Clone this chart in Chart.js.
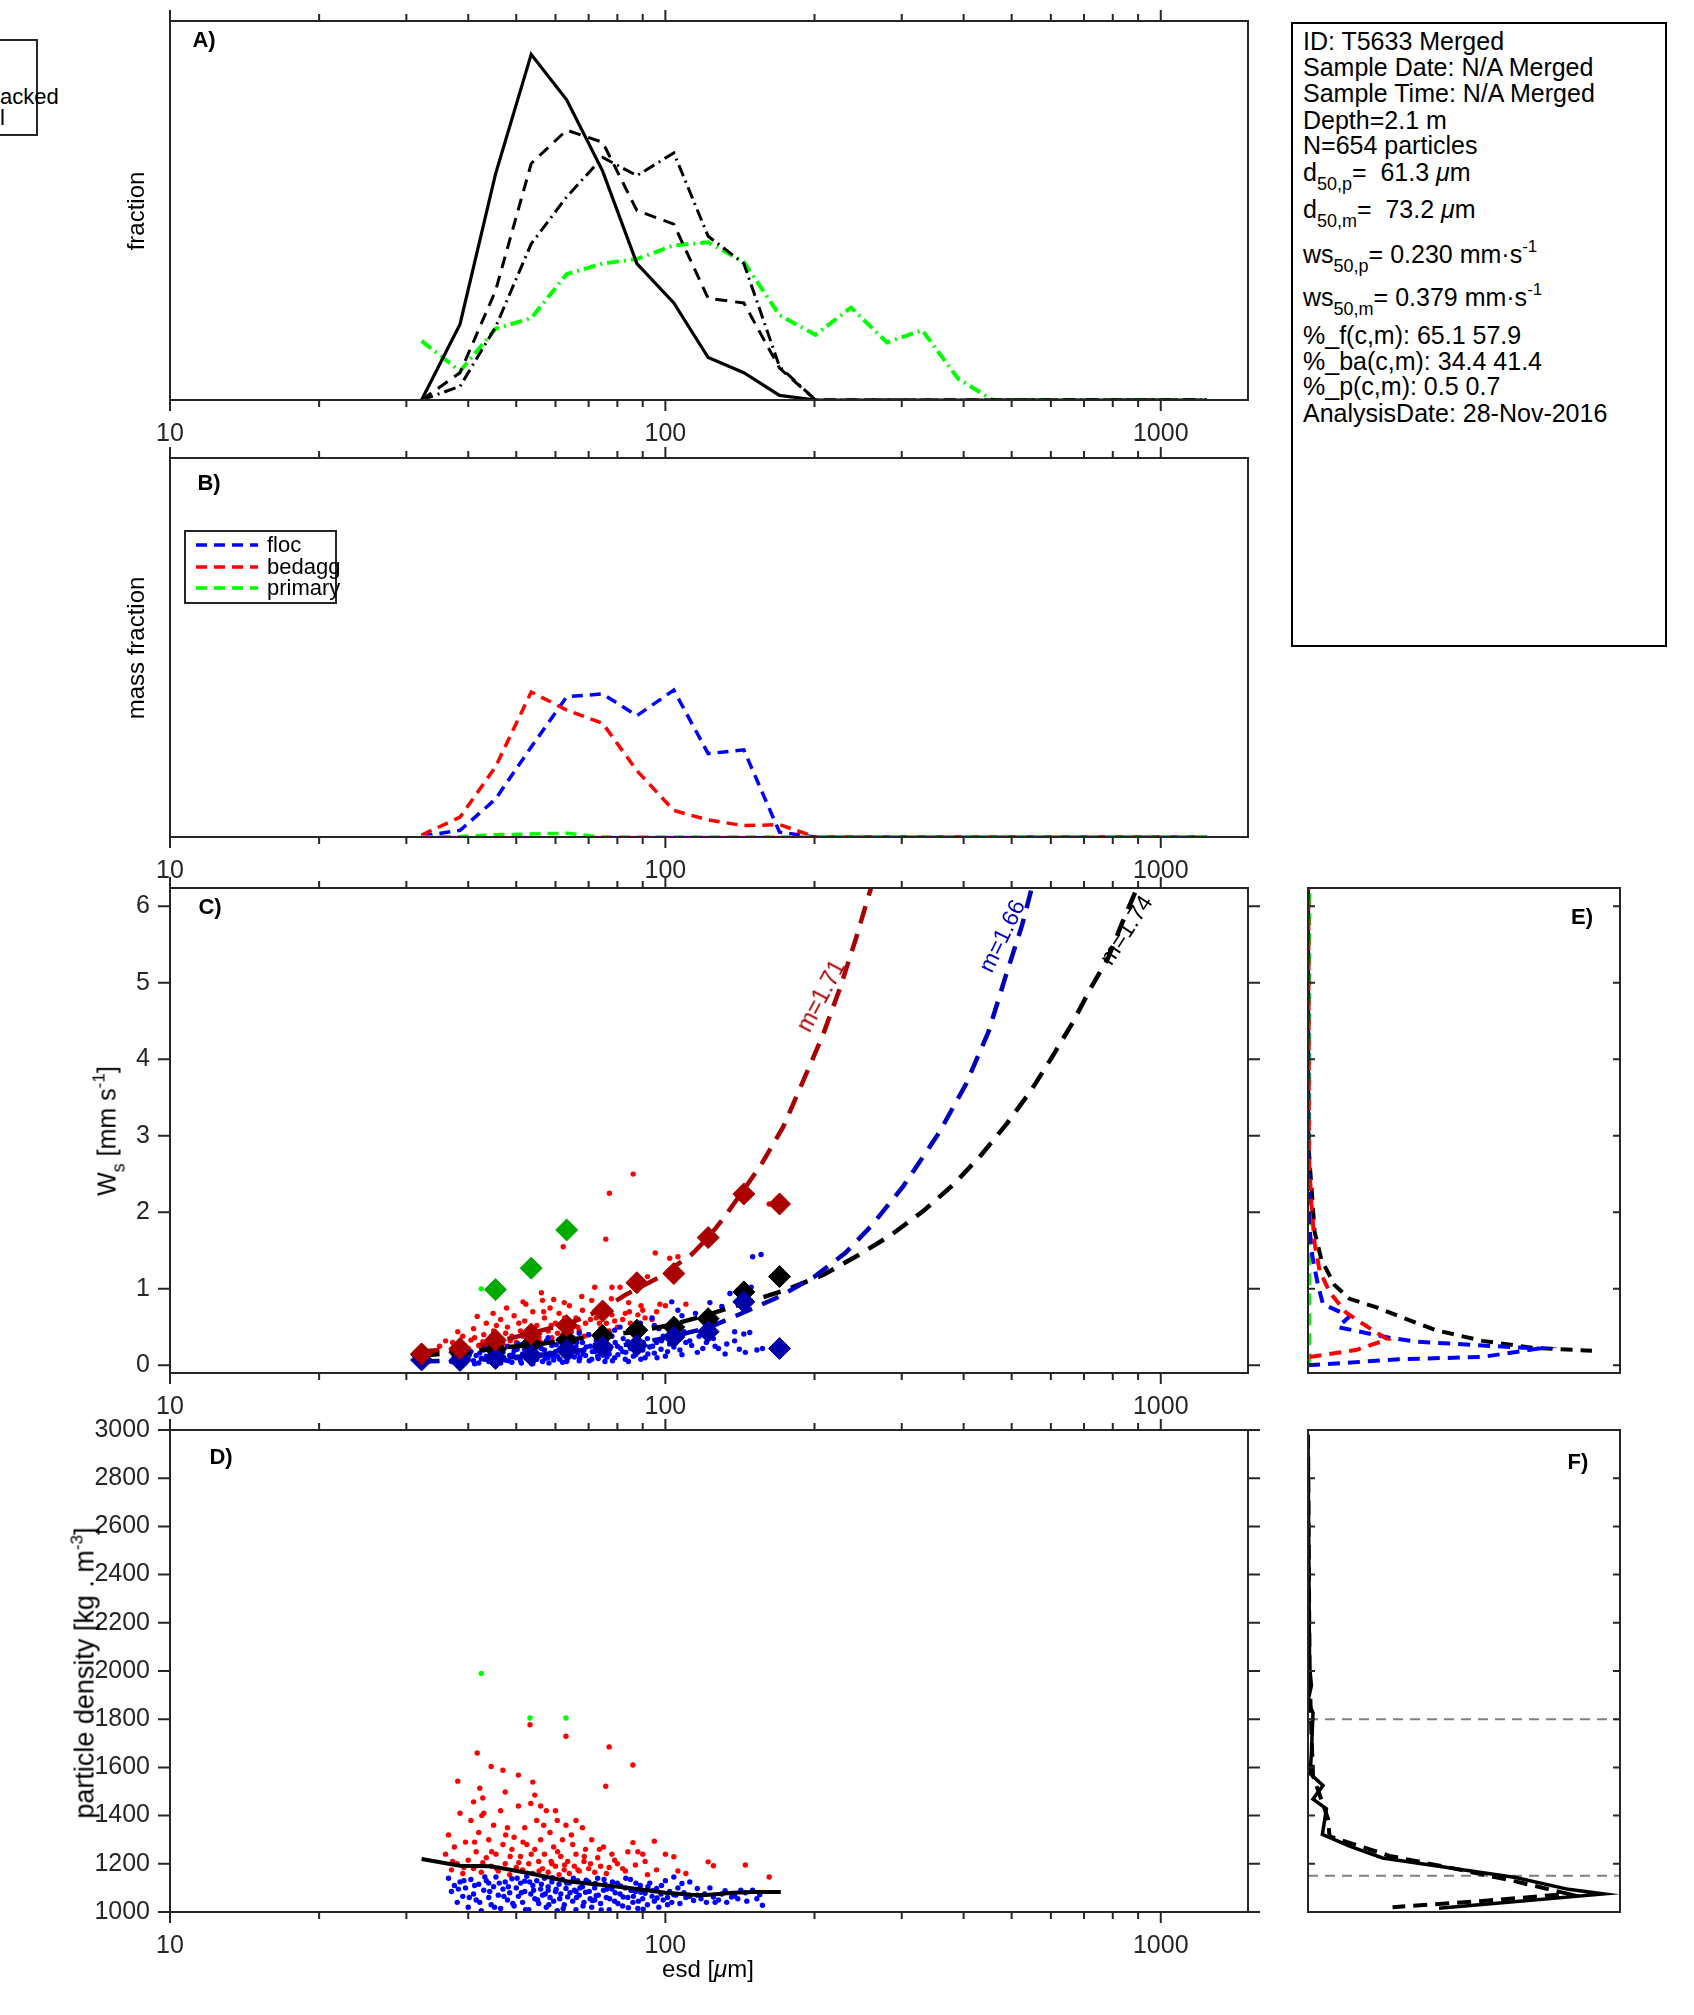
<!DOCTYPE html>
<html>
<head>
<meta charset="utf-8">
<script src="https://cdn.jsdelivr.net/npm/chart.js@4.4.0/dist/chart.umd.min.js"></script>
<style>
  body { margin: 0; background: #fff; width: 1694px; height: 2015px; position: relative; overflow: hidden;
         font-family: 'Liberation Sans', Arial, sans-serif; color: #000; }
  canvas { position: absolute; }
  .t { position: absolute; white-space: nowrap; line-height: 1; }
  .c { transform: translate(-50%, -50%); }
  .r { transform: translate(-50%, -50%) rotate(-90deg); }
  .v { transform: translateY(-50%); }
  .b { font-weight: bold; font-size: 22px; }
  .sb { font-size: 18px; position: relative; top: 9px; }
  .sp { font-size: 17px; position: relative; top: -11px; }
  .info { font-size: 25px; left: 1303px; }
</style>
</head>
<body>
<script>
const INK = '#262626';
Chart.defaults.font.family = "'Liberation Sans', Arial, sans-serif";
Chart.defaults.color = INK;

// ---- data ----
const xMajor = [10, 100, 1000];
const xMinor = [20, 30, 40, 50, 60, 70, 80, 90, 200, 300, 400, 500, 600, 700, 800, 900];

// size bins (esd, um)
const esdBins = [32.2, 38.5, 45.4, 53.6, 63.2, 74.7, 87.6, 104, 122, 144, 170, 201, 237, 280, 330, 390, 458, 540, 637, 751, 886, 1045, 1240];

// A) number fraction
const aSolid   = [0, 0.050, 0.149, 0.228, 0.198, 0.151, 0.090, 0.064, 0.028, 0.018, 0.003, 0, 0, 0, 0, 0, 0, 0, 0, 0, 0, 0, 0];
const aDashed  = [0, 0.018, 0.072, 0.156, 0.178, 0.170, 0.125, 0.116, 0.067, 0.064, 0.021, 0, 0, 0, 0, 0, 0, 0, 0, 0, 0, 0, 0];
const aDashDot = [0, 0.009, 0.048, 0.103, 0.134, 0.160, 0.148, 0.163, 0.108, 0.090, 0.022, 0, 0, 0, 0, 0, 0, 0, 0, 0, 0, 0, 0];
const aPrimary = [0.039, 0.019, 0.047, 0.054, 0.083, 0.090, 0.093, 0.102, 0.104, 0.091, 0.056, 0.043, 0.061, 0.038, 0.046, 0.014, 0, 0, 0, 0, 0, 0, 0];

// B) mass fraction
const bFloc    = [0.001, 0.007, 0.040, 0.095, 0.148, 0.151, 0.128, 0.155, 0.088, 0.092, 0.005, 0, 0, 0, 0, 0, 0, 0, 0, 0, 0, 0, 0];
const bBedagg  = [0.002, 0.021, 0.074, 0.153, 0.134, 0.120, 0.070, 0.028, 0.018, 0.012, 0.013, 0, 0, 0, 0, 0, 0, 0, 0, 0, 0, 0, 0];
const bPrimary = [0, 0.0004, 0.0024, 0.0032, 0.004, 0, 0, 0, 0, 0, 0, 0, 0, 0, 0, 0, 0, 0, 0, 0, 0, 0, 0];

// C) settling velocity, bin medians
const cBins       = [32.2, 38.5, 45.4, 53.6, 63.2, 74.7, 87.6, 104, 122, 144, 170];
const cFlocMed    = [0.07, 0.065, 0.09, 0.13, 0.20, 0.24, 0.26, 0.37, 0.44, 0.83, 0.22];
const cBedaggMed  = [0.15, 0.22, 0.33, 0.41, 0.52, 0.71, 1.08, 1.20, 1.67, 2.24, 2.11];
const cAllMed     = [0.14, 0.17, 0.21, 0.28, 0.33, 0.39, 0.46, 0.50, 0.61, 0.96, 1.16];
const cPrimBins   = [45.4, 53.6, 63.2];
const cPrimMed    = [0.99, 1.27, 1.77];

// C) fitted curves
const fitRedX   = [32.2, 40, 47, 55, 64, 74, 83, 97, 113, 122, 132, 156, 173, 191, 208, 226, 243, 260];
const fitRedY   = [0.18, 0.23, 0.33, 0.44, 0.55, 0.72, 0.92, 1.15, 1.45, 1.67, 1.95, 2.62, 3.12, 3.76, 4.32, 4.96, 5.60, 6.24];
const fitBlueX  = [32.2, 40, 48, 56, 64, 75, 88, 104, 123, 145, 170, 200, 231, 261, 302, 356, 404, 449, 487, 524, 549];
const fitBlueY  = [0.05, 0.07, 0.10, 0.14, 0.18, 0.23, 0.29, 0.38, 0.50, 0.70, 0.90, 1.16, 1.47, 1.83, 2.34, 3.03, 3.67, 4.36, 5.10, 5.74, 6.24];
const fitBlackX = [32.2, 40, 48, 55, 60, 70, 85, 103, 123, 147, 174, 208, 245, 285, 332, 381, 434, 489, 548, 602, 664, 722, 782, 839, 890];
const fitBlackY = [0.13, 0.18, 0.24, 0.27, 0.31, 0.37, 0.43, 0.53, 0.67, 0.83, 0.98, 1.18, 1.44, 1.70, 2.02, 2.36, 2.75, 3.16, 3.60, 4.02, 4.48, 4.93, 5.32, 5.81, 6.20];

// C) particles (esd, ws)
const cFloc = [[37,0.05],[37.5,0.12],[38,0.02],[38.5,0.08],[39,0.15],[39.5,0.04],[40,0.10],[40.5,0.18],[41,0.06],[41.5,0.13],
  [42,0.03],[42.5,0.09],[43,0.20],[43.5,0.12],[44,0.05],[44.5,0.15],[45,0.08],[45.5,0.22],[46,0.11],[46.5,0.03],
  [47,0.17],[47.5,0.07],[48,0.25],[48.5,0.13],[49,0.04],[49.5,0.19],[50,0.10],[50.5,0.28],[51,0.06],[51.5,0.15],
  [52,0.21],[52.5,0.09],[53,0.12],[53.5,0.30],[54,0.02],[54.5,0.17],[55,0.08],[55.5,0.24],[56,0.13],[56.5,0.05],
  [57,0.20],[57.5,0.32],[58,0.10],[58.5,0.16],[59,0.26],[59.5,0.07],[60,0.18],[60.5,0.12],[61,0.34],[61.5,0.22],
  [62,0.04],[62.5,0.14],[63,0.28],[63.5,0.09],[64,0.19],[65,0.36],[65.5,0.11],[66,0.24],[66.5,0.16],[67,0.06],
  [68,0.30],[68.5,0.20],[69,0.13],[70,0.40],[70.5,0.25],[71,0.08],[72,0.18],[72.5,0.33],[73,0.12],[74,0.45],
  [75,0.22],[75.5,0.05],[76,0.28],[77,0.15],[78,0.38],[79,0.10],[80,0.25],[81,0.50],[82,0.18],[83,0.08],
  [84,0.31],[85,0.22],[86,0.42],[87,0.14],[88,0.27],[89,0.55],[90,0.20],[91,0.10],[92,0.35],[93,0.24],
  [94,0.62],[95,0.16],[96,0.30],[97,0.48],[98,0.21],[99,0.38],[100,0.12],[102,0.28],[103,0.83],[104,0.55],
  [105,0.35],[106,0.72],[107,0.20],[108,0.65],[109,0.44],[110,0.30],[113,0.26],[115,0.68],[117,0.38],[119,0.22],
  [121,0.30],[123,0.82],[125,0.35],[128,0.22],[130,0.77],[133,0.28],[135,0.94],[138,0.44],[141,0.21],[144,0.41],
  [148,0.43],[149,1.02],[150,1.42],[156,1.45],[157,0.22],[43,0.25],[58,0.36],[67,0.42],[79,0.46],[95,0.52],
  [38.2,0.10],[39.2,0.07],[40.2,0.14],[41.2,0.02],[42.2,0.16],[43.2,0.08],[44.2,0.11],[45.2,0.04],[46.2,0.19],[47.2,0.10],
  [48.2,0.06],[49.2,0.14],[50.2,0.21],[51.2,0.03],[52.2,0.11],[53.2,0.18],[54.2,0.07],[55.2,0.14],[56.2,0.22],[57.2,0.09],
  [58.2,0.03],[59.2,0.13],[60.2,0.27],[61.2,0.08],[62.2,0.17],[63.2,0.05],[64.2,0.12],[65.2,0.21],[66.2,0.30],[67.2,0.10],
  [68.2,0.15],[69.2,0.24],[70.2,0.06],[71.2,0.18],[72.2,0.27],[73.2,0.09],[74.2,0.15],[75.2,0.33],[76.2,0.11],[77.2,0.21],
  [78.2,0.06],[79.2,0.30],[80.2,0.14],[81.2,0.22],[82.2,0.35],[83.2,0.17],[84.2,0.05],[85.2,0.28],[86.2,0.12],[87.2,0.36],
  [88.2,0.19],[89.2,0.08],[90.2,0.30],[92.2,0.15],[94.2,0.25],[96.2,0.10],[98.2,0.32],[101,0.18],[104,0.24],[108,0.14],
  [112,0.32],[116,0.17],[120,0.45],[126,0.25],[132,0.15],[138,0.32],[145,0.17],[153,0.20]];
const cBedagg = [[38.1,0.44],[41.7,0.64],[44.9,0.68],[47.8,0.75],[51.6,0.83],[52.3,0.80],[56.2,0.95],[56.5,0.85],[59.5,0.86],[62.5,0.82],
  [62.2,1.55],[67.8,0.90],[72,1.02],[75.8,1.65],[77.1,2.25],[77.8,0.87],[78,1.02],[81,1.02],[84.3,0.82],[84.6,0.70],
  [86.1,2.50],[89.3,0.78],[92,1.16],[95.4,1.47],[97.5,0.80],[102,1.40],[106,1.42],[162,2.11],
  [35,0.25],[36,0.32],[37,0.20],[38,0.28],[39,0.38],[40,0.22],[40.5,0.33],[41,0.48],[42,0.26],[43,0.40],
  [43.5,0.55],[44,0.30],[45,0.45],[46,0.36],[46.5,0.60],[47,0.28],[48,0.50],[49,0.38],[49.5,0.65],[50,0.30],
  [51,0.45],[52,0.58],[53,0.35],[54,0.70],[54.5,0.42],[55,0.52],[56,0.30],[57,0.62],[58,0.45],[58.5,0.75],
  [59,0.36],[60,0.55],[61,0.68],[62,0.40],[63,0.50],[64,0.78],[65,0.35],[66,0.62],[67,0.45],[68,0.72],
  [69,0.55],[70,0.40],[71,0.85],[72.5,0.62],[74,0.48],[75,0.70],[76,0.55],[78,0.66],[80,0.50],[82,0.60],
  [85,0.55],[88,0.66],[90,0.72],[94,0.60],[100,0.78],[110,0.80],
  [37.2,0.30],[39.2,0.26],[41.2,0.36],[42.8,0.31],[44.6,0.38],[45.6,0.52],[47.6,0.42],[48.6,0.32],[50.6,0.55],[51.6,0.38],
  [53.6,0.48],[55.6,0.36],[56.8,0.70],[58.8,0.52],[60.6,0.42],[62.6,0.62],[64.6,0.44],[66.6,0.50],[68.6,0.38],[70.6,0.60],
  [73.6,0.55],[77,0.45],[79,0.58],[83,0.68],[87,0.50],[91,0.62],[96,0.70]];
const cPrimary = [[42.5,1.0],[53.3,1.27],[63,1.77]];

// D) particles (esd, density)
const dFloc = [[36.5,1140],[37,1085],[37.5,1110],[38,1040],[38.5,1125],[39,1065],[39.5,1100],[40,1020],[40.5,1135],[41,1075],
  [41.5,1050],[42,1115],[42.5,1005],[43,1090],[43.5,1130],[44,1060],[44.5,1030],[45,1105],[45.5,1145],[46,1070],
  [46.5,1015],[47,1095],[47.5,1125],[48,1050],[48.5,1080],[49,1138],[49.5,1025],[50,1100],[50.5,1065],[51,1120],
  [51.5,1040],[52,1085],[52.5,1148],[53,1010],[53.5,1075],[54,1110],[54.5,1055],[55,1130],[55.5,1035],[56,1095],
  [56.5,1070],[57,1140],[57.5,1020],[58,1105],[58.5,1060],[59,1125],[59.5,1045],[60,1085],[60.5,1005],[61,1115],
  [61.5,1075],[62,1135],[62.5,1030],[63,1098],[63.5,1062],[64,1120],[65,1045],[65.5,1090],[66,1010],[66.5,1130],
  [67,1070],[68,1105],[68.5,1040],[69,1082],[70,1125],[70.5,1055],[71,1020],[72,1100],[72.5,1068],[73,1140],
  [74,1035],[75,1090],[75.5,1115],[76,1060],[77,1010],[78,1095],[79,1045],[80,1120],[81,1075],[82,1025],
  [83,1100],[84,1060],[85,1135],[86,1040],[87,1085],[88,1015],[89,1110],[90,1055],[91,1078],[92,1030],
  [93,1120],[94,1065],[95,1045],[96,1098],[97,1020],[98,1075],[99,1050],[100,1130],[101,1060],[102,1085],
  [103,1040],[104,1145],[105,1070],[106,1100],[107,1035],[109,1080],[110,1060],[112,1125],[114,1048],[116,1070],
  [118,1055],[121,1040],[123,1100],[125,1062],[128,1050],[130,1075],[133,1040],[136,1062],[140,1055],[142,1090],
  [146,1045],[150,1090],[155,1072],[157,1028],[44,1120],[52,1128],[58,1090],[66,1085],[72,1050],[86,1090],
  [38.2,1095],[39.2,1130],[40.2,1060],[41.2,1110],[42.2,1040],[43.2,1145],[44.2,1085],[45.2,1020],[46.2,1120],[47.2,1065],
  [48.2,1105],[49.2,1035],[50.2,1140],[51.2,1080],[52.2,1010],[53.2,1125],[54.2,1090],[55.2,1050],[56.2,1115],[57.2,1075],
  [58.2,1030],[59.2,1142],[60.2,1095],[61.2,1055],[62.2,1015],[63.2,1120],[64.2,1080],[65.2,1140],[66.2,1060],[67.2,1100],
  [68.2,1025],[69.2,1132],[70.2,1085],[71.2,1048],[72.2,1118],[73.2,1070],[74.2,1008],[75.2,1135],[76.2,1095],[77.2,1055],
  [78.2,1125],[79.2,1080],[80.2,1035],[81.2,1108],[82.2,1062],[83.2,1140],[84.2,1018],[85.2,1090],[86.2,1065],[87.2,1120],
  [88.2,1045],[89.2,1082],[90.2,1012],[92.2,1105],[94.2,1088],[96.2,1058],[98.2,1110],[101,1030],[104,1072],[108,1118],
  [112,1064],[116,1098],[120,1075],[126,1040],[132,1088],[138,1066],[145,1080],[153,1055]];
const dBedagg = [[53.3,1777],[63,1729],[77,1685],[86,1610],[41.7,1660],[44.5,1604],[38.1,1543],[47,1588],[50.5,1568],[54,1539],
  [47.5,1498],[42.2,1514],[54.5,1485],[42.8,1473],[41,1457],[75.8,1522],[42.6,1400],[56,1440],[60,1420],[66,1380],
  [36,1240],[36.5,1320],[37,1175],[37.5,1270],[38,1200],[38.5,1410],[39,1160],[39.5,1290],[40,1215],[40.5,1380],
  [41,1180],[41.5,1250],[42,1330],[42.5,1165],[43,1410],[43.5,1225],[44,1300],[44.5,1190],[45,1360],[45.5,1240],
  [46,1170],[46.5,1420],[47,1280],[47.5,1200],[48,1350],[48.5,1155],[49,1260],[49.5,1310],[50,1185],[50.5,1440],
  [51,1230],[51.5,1175],[52,1350],[52.5,1280],[53,1200],[53.5,1450],[54,1160],[54.5,1260],[55,1380],[55.5,1210],
  [56,1300],[56.5,1180],[57,1240],[57.5,1420],[58,1165],[58.5,1330],[59,1200],[59.5,1270],[60,1190],[60.5,1380],
  [61,1155],[61.5,1230],[62,1300],[62.5,1175],[63,1360],[63.5,1210],[64,1160],[65,1280],[65.5,1190],[66,1240],
  [67,1170],[68,1350],[68.5,1210],[69,1260],[70,1180],[71,1300],[72,1165],[73,1225],[74,1190],[75,1270],
  [76,1160],[78,1240],[80,1200],[82,1180],[84,1250],[86,1288],[88,1250],[90,1240],[92,1155],[95,1294],
  [100,1240],[104,1229],[106,1170],[110,1160],[122,1208],[125,1192],[145,1195],[162,1145],
  [37.2,1210],[39.2,1185],[41.2,1290],[42.8,1205],[44.6,1250],[45.6,1180],[47.6,1320],[48.6,1230],[50.6,1205],[51.6,1290],
  [53.6,1240],[55.6,1170],[56.8,1360],[58.8,1210],[60.6,1250],[62.6,1195],[64.6,1320],[66.6,1175],[68.6,1230],[70.6,1200],
  [73.6,1260],[77,1185],[79,1215],[83,1170],[87,1195],[91,1210],[96,1175]];
const dPrimary = [[42.5,1990],[53.3,1805],[63,1805]];
const dMeanX = [32.2, 38.5, 44.5, 53.5, 63.2, 74.7, 88, 100, 113, 121, 137, 150, 171];
const dMeanY = [1220, 1192, 1190, 1160, 1128, 1112, 1095, 1080, 1072, 1071, 1080, 1083, 1083];

// E) ws distributions (fraction, ws)
const eAllX    = [0, 0, 0.011, 0.021, 0.043, 0.085, 0.133, 0.218, 0.293, 0.410, 0.559, 0.718, 0.910];
const eAllY    = [6.24, 2.93, 2.34, 1.75, 1.38, 1.05, 0.87, 0.76, 0.64, 0.46, 0.32, 0.23, 0.19];
const eFlocX   = [0, 0.293, 0.559, 0.739, 0.559, 0.346, 0.261, 0.096, 0.133, 0.048, 0.032, 0.014, 0.005, 0.002, 0];
const eFlocY   = [0, 0.08, 0.11, 0.22, 0.26, 0.31, 0.36, 0.50, 0.64, 0.80, 1.05, 1.42, 1.79, 2.48, 6.24];
const eBedaggX = [0.005, 0.154, 0.255, 0.181, 0.122, 0.069, 0.037, 0.021, 0.011, 0.003, 0.001];
const eBedaggY = [0.11, 0.20, 0.34, 0.53, 0.69, 0.96, 1.24, 1.60, 2.11, 2.71, 6.24];
const ePrimX   = [0.004, 0.004];
const ePrimY   = [0, 6.24];

// F) density distributions (fraction, density)
const fSolidX = [0, 0.005, 0.011, 0, 0.016, 0.011, 0.007, 0.048, 0.016, 0.059, 0.046, 0.133, 0.239, 0.452, 0.665, 0.835, 0.947, 0.420];
const fSolidY = [2980, 2021, 1940, 1875, 1826, 1663, 1574, 1525, 1468, 1428, 1322, 1273, 1224, 1184, 1143, 1094, 1075, 1016];
const fDashX  = [0, 0.005, 0.011, 0.016, 0.064, 0.069, 0.261, 0.473, 0.665, 0.835, 0.559, 0.271];
const fDashY  = [2980, 1989, 1745, 1566, 1387, 1314, 1233, 1179, 1127, 1075, 1046, 1020];
const fRefLevels = [1800, 1150];

const wsTicks = [0, 1, 2, 3, 4, 5, 6];
const rhoTicks = [1000, 1200, 1400, 1600, 1800, 2000, 2200, 2400, 2600, 2800, 3000];

// ---- helpers ----
const pts = (xs, ys) => xs.map((x, i) => ({x: x, y: ys[i]}));
function line(xs, ys, color, width, dash, order) {
  return {data: pts(xs, ys), showLine: true, borderColor: color, backgroundColor: color, borderWidth: width,
          borderDash: dash || [], pointRadius: 0, fill: false, tension: 0, order: order || 0};
}
function dots(list, color, r, order) {
  return {data: list.map(p => ({x: p[0], y: p[1]})), backgroundColor: color, borderWidth: 0, pointRadius: r, order: order || 0};
}
function diamonds(xs, ys, color, order) {
  return {data: pts(xs, ys), pointStyle: 'rectRot', pointRadius: 11, backgroundColor: color, borderColor: color,
          borderWidth: 1, order: order || 0};
}

function framePlugin(cfg) {
  return {
    id: 'frame',
    afterDraw(chart) {
      const ctx = chart.ctx, a = chart.chartArea, s = chart.scales;
      ctx.save();
      if (cfg.extra) cfg.extra(ctx, chart);
      ctx.strokeStyle = INK;
      ctx.lineWidth = 2;
      ctx.strokeRect(a.left, a.top, a.right - a.left, a.bottom - a.top);
      ctx.beginPath();
      if (cfg.logX) {
        xMajor.concat(xMinor).forEach(v => {
          const len = xMajor.includes(v) ? 11 : 7;
          const px = s.x.getPixelForValue(v);
          ctx.moveTo(px, a.top); ctx.lineTo(px, a.top - len);
          ctx.moveTo(px, a.bottom); ctx.lineTo(px, a.bottom + len);
        });
      }
      (cfg.yTicks || []).forEach(v => {
        const py = s.y.getPixelForValue(v);
        const d = cfg.yIn ? -7 : 12;
        ctx.moveTo(a.left, py); ctx.lineTo(a.left - d, py);
        ctx.moveTo(a.right, py); ctx.lineTo(a.right + d, py);
      });
      ctx.stroke();
      ctx.restore();
    }
  };
}

function xLog(showLabels, h) {
  return {
    type: 'logarithmic', min: 10, max: 1500, position: 'bottom',
    afterBuildTicks: sc => { sc.ticks = xMajor.map(v => ({value: v})); },
    afterFit: sc => { sc.height = h; },
    grid: {display: false, drawTicks: false}, border: {display: false},
    ticks: {display: showLabels, autoSkip: false, maxRotation: 0, padding: 19, font: {size: 25}, color: INK,
            callback: v => String(v)}
  };
}
function yLin(min, max, ticks, showLabels, w) {
  return {
    type: 'linear', min: min, max: max, position: 'left',
    afterBuildTicks: sc => { sc.ticks = ticks.map(v => ({value: v})); },
    afterFit: sc => { sc.width = w; },
    grid: {display: false, drawTicks: false}, border: {display: false},
    ticks: {display: showLabels, padding: 20, font: {size: 25}, color: INK, callback: v => String(v)}
  };
}

function panel(area, pad, scales, datasets, frameCfg) {
  const cv = document.createElement('canvas');
  const w = area.r - area.l + pad.l + pad.r, h = area.b - area.t + pad.t + pad.b;
  cv.width = w; cv.height = h;
  cv.style.left = (area.l - pad.l) + 'px';
  cv.style.top = (area.t - pad.t) + 'px';
  cv.style.width = w + 'px'; cv.style.height = h + 'px';
  document.body.appendChild(cv);
  const xHidden = scales.x.display === false;
  return new Chart(cv, {
    type: 'scatter',
    data: {datasets: datasets},
    options: {
      responsive: false, animation: false, devicePixelRatio: 1, events: [],
      layout: {padding: {top: pad.t, right: pad.r, left: 0, bottom: xHidden ? pad.b : 0}},
      plugins: {legend: {display: false}, tooltip: {enabled: false}},
      scales: scales
    },
    plugins: [framePlugin(frameCfg)]
  });
}

const padMain = {l: 90, r: 25, t: 45, b: 55};
const padSide = {l: 10, r: 10, t: 10, b: 10};
const dashDot = [12, 5, 2, 5];

// A)
panel({l: 170, r: 1248, t: 21, b: 400}, {l: 90, r: 25, t: 20, b: 55},
  {x: xLog(true, 55), y: yLin(0, 0.25, [], false, 90)},
  [line(esdBins, aPrimary, '#00ff00', 4, dashDot, 4),
   line(esdBins, aDashDot, '#000', 3, dashDot, 3),
   line(esdBins, aDashed, '#000', 3, [12, 8], 2),
   line(esdBins, aSolid, '#000', 3.2, [], 1)],
  {logX: true});

// B)
panel({l: 170, r: 1248, t: 458, b: 837}, padMain,
  {x: xLog(true, 55), y: yLin(0, 0.4, [], false, 90)},
  [line(esdBins, bFloc, '#0000ff', 3.5, [11, 7], 3),
   line(esdBins, bBedagg, '#ff0000', 3.5, [11, 7], 2),
   line(esdBins, bPrimary, '#00ff00', 3.5, [11, 7], 1)],
  {logX: true, extra: (ctx, chart) => {
    const ox = 170 - chart.chartArea.left, oy = 458 - chart.chartArea.top;
    ctx.fillStyle = '#fff';
    ctx.fillRect(185 - ox, 531 - oy, 151, 72);
    ctx.strokeStyle = INK; ctx.lineWidth = 2;
    ctx.strokeRect(185 - ox, 531 - oy, 151, 72);
    const rows = [['#0000ff', 545], ['#ff0000', 567], ['#00ff00', 588]];
    ctx.lineWidth = 3.5; ctx.setLineDash([11, 7]);
    rows.forEach(r => {
      ctx.strokeStyle = r[0];
      ctx.beginPath(); ctx.moveTo(196 - ox, r[1] - oy); ctx.lineTo(258 - ox, r[1] - oy); ctx.stroke();
    });
    ctx.setLineDash([]);
  }});

// C)
panel({l: 170, r: 1248, t: 888, b: 1373}, padMain,
  {x: xLog(true, 55), y: yLin(-0.1, 6.24, wsTicks, true, 90)},
  [dots(cBedagg, '#ff0000', 2.7, 9),
   dots(cFloc, '#0000ff', 2.7, 8),
   dots(cPrimary, '#00ff00', 2.7, 7),
   line(fitBlackX, fitBlackY, '#000', 4.5, [18, 11], 5),
   line(fitBlueX, fitBlueY, '#0000bb', 4.5, [18, 11], 4),
   line(fitRedX, fitRedY, '#aa0000', 4.5, [18, 11], 3),
   diamonds(cBins, cAllMed, '#000', 2),
   diamonds(cBins, cFlocMed, '#0000aa', 1),
   diamonds(cBins, cBedaggMed, '#aa0000', 0),
   diamonds(cPrimBins, cPrimMed, '#00aa00', 0)],
  {logX: true, yTicks: wsTicks});

// D)
panel({l: 170, r: 1248, t: 1430, b: 1912}, padMain,
  {x: xLog(true, 55), y: yLin(1000, 3000, rhoTicks, true, 90)},
  [dots(dBedagg, '#ff0000', 2.7, 4),
   dots(dFloc, '#0000ff', 2.7, 3),
   dots(dPrimary, '#00ff00', 2.7, 2),
   line(dMeanX, dMeanY, '#000', 4, [], 1)],
  {logX: true, yTicks: rhoTicks});

// E)
panel({l: 1308, r: 1620, t: 888, b: 1373}, padSide,
  {x: {type: 'linear', min: 0, max: 1, display: false}, y: yLin(-0.1, 6.24, wsTicks, false, 10)},
  [line(ePrimX, ePrimY, '#00ff00', 4, [12, 8], 4),
   line(eAllX, eAllY, '#000', 4, [12, 8], 3),
   line(eFlocX, eFlocY, '#0000ff', 4, [12, 8], 2),
   line(eBedaggX, eBedaggY, '#ff0000', 4, [12, 8], 1)],
  {yTicks: wsTicks, yIn: true});

// F)
panel({l: 1308, r: 1620, t: 1430, b: 1912}, padSide,
  {x: {type: 'linear', min: 0, max: 1, display: false}, y: yLin(1000, 3000, rhoTicks, false, 10)},
  [line([0, 1], [fRefLevels[0], fRefLevels[0]], '#808080', 2, [10, 7], 3),
   line([0, 1], [fRefLevels[1], fRefLevels[1]], '#808080', 2, [10, 7], 3),
   line(fDashX, fDashY, '#000', 4, [14, 8], 2),
   line(fSolidX, fSolidY, '#000', 3.5, [], 1)],
  {yTicks: rhoTicks, yIn: true});
</script>

<!-- cut-off legend at far left -->
<div style="position:absolute;left:-10px;top:39px;width:44px;height:93px;border:2px solid #262626;"></div>
<div class="t" style="left:0;top:86px;font-size:22px;">acked</div>
<div class="t" style="left:0;top:107px;font-size:22px;">l</div>

<!-- panel letters -->
<div class="t b c" style="left:204px;top:40px;">A)</div>
<div class="t b c" style="left:209px;top:483px;">B)</div>
<div class="t b c" style="left:210px;top:907px;">C)</div>
<div class="t b c" style="left:221px;top:1457px;">D)</div>
<div class="t b c" style="left:1582px;top:917px;">E)</div>
<div class="t b c" style="left:1578px;top:1462px;">F)</div>

<!-- axis titles -->
<div class="t r" style="left:136px;top:211px;font-size:24px;">fraction</div>
<div class="t r" style="left:136px;top:648px;font-size:24px;">mass fraction</div>
<div class="t r" style="left:107px;top:1131px;font-size:25px;">W<span class="sb">s</span> [mm s<span class="sp">-1</span>]</div>
<div class="t r" style="left:85px;top:1673px;font-size:27px;">particle density [kg . m<span class="sp">-3</span>]</div>
<div class="t c" style="left:708px;top:1969px;font-size:24px;">esd [<i>μ</i>m]</div>

<!-- B legend text -->
<div class="t v" style="left:267px;top:545px;font-size:22px;">floc</div>
<div class="t v" style="left:267px;top:567px;font-size:22px;">bedagg</div>
<div class="t v" style="left:267px;top:588px;font-size:22px;">primary</div>

<!-- curve labels in C -->
<div class="t" style="left:821px;top:996px;font-size:23px;color:#aa0000;transform:translate(-50%,-50%) rotate(-62deg);">m=1.71</div>
<div class="t" style="left:1002px;top:936px;font-size:23px;color:#0000bb;transform:translate(-50%,-50%) rotate(-64deg);">m=1.66</div>
<div class="t" style="left:1126px;top:930px;font-size:23px;color:#000;transform:translate(-50%,-50%) rotate(-57deg);">m=1.74</div>

<!-- info box -->
<div style="position:absolute;left:1291px;top:22px;width:376px;height:625px;border:2px solid #000;box-sizing:border-box;"></div>
<div class="t v info" style="top:41px;">ID: T5633 Merged</div>
<div class="t v info" style="top:67px;">Sample Date: N/A Merged</div>
<div class="t v info" style="top:93px;">Sample Time: N/A Merged</div>
<div class="t v info" style="top:120px;">Depth=2.1 m</div>
<div class="t v info" style="top:145px;">N=654 particles</div>
<div class="t v info" style="top:172px;">d<span class="sb">50,p</span>= &nbsp;61.3 <i>μ</i>m</div>
<div class="t v info" style="top:209px;">d<span class="sb">50,m</span>= &nbsp;73.2 <i>μ</i>m</div>
<div class="t v info" style="top:254px;">ws<span class="sb">50,p</span>= 0.230 mm·s<span class="sp">-1</span></div>
<div class="t v info" style="top:297px;">ws<span class="sb">50,m</span>= 0.379 mm·s<span class="sp">-1</span></div>
<div class="t v info" style="top:335px;">%_f(c,m): 65.1 57.9</div>
<div class="t v info" style="top:361px;">%_ba(c,m): 34.4 41.4</div>
<div class="t v info" style="top:386px;">%_p(c,m): 0.5 0.7</div>
<div class="t v info" style="top:413px;">AnalysisDate: 28-Nov-2016</div>
</body>
</html>
